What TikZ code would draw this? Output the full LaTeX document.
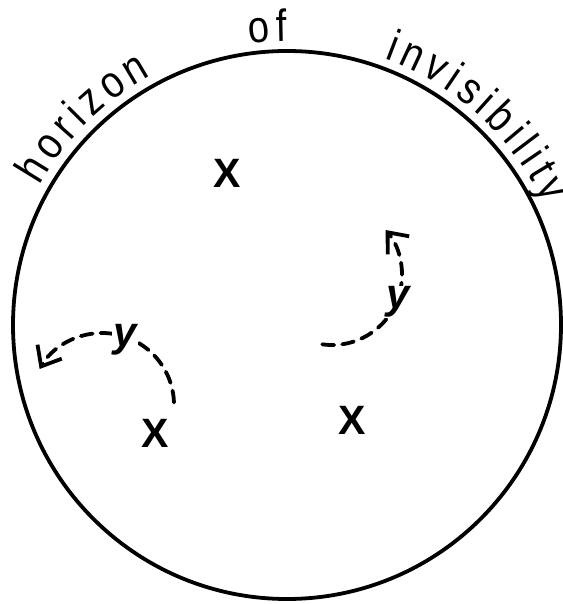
\documentclass[tikz,border=0pt]{standalone}
\usepackage{fontspec}
\setmainfont{Liberation Sans}
\usetikzlibrary{arrows.meta}
\newfontfamily\arcfont[FakeStretch=0.85]{Liberation Sans}
\newcommand\lettrfont{\arcfont\fontsize{45}{45}\selectfont}
\newcommand\Rtxt{284}
\newcommand\LSp{5.5}
\newcommand\arcword[3]{%
  \xdef\curang{#1}%
  \foreach \letr [count=\kk] in {#2} {%
    \pgfmathwidth{"\letr"}\let\lw\pgfmathresult
    \pgfmathsetmacro\ang{\curang - (\lw/2)/\Rtxt*180/pi}%
    \node[lettr, rotate=\ang-90] (#3\kk) at (\ang:\Rtxt) {\letr};%
    \pgfmathsetmacro\nxt{\curang - (\lw+\LSp)/\Rtxt*180/pi}%
    \global\let\curang\nxt
  }%
}
\tikzset{
  horizon/.style={line width=3.8pt, draw=black},
  lettr/.style={font=\lettrfont, anchor=base, inner sep=0pt, outer sep=0pt},
  xmark/.style={font=\normalfont\fontsize{41}{41}\selectfont\bfseries, inner sep=0pt},
  ylab/.style={font=\normalfont\fontsize{42}{42}\selectfont\bfseries\itshape, fill=white, inner sep=1pt},
  motion/.style={line width=3.8pt, dash pattern=on 12pt off 8pt, line cap=round,
    -{Straight Barb[length=17pt, width=28pt, line width=3.8pt]}}
}
\begin{document}
\begin{tikzpicture}[x=1pt,y=1pt]
\useasboundingbox (-287,-279) rectangle (275,325);
\begin{scope}
\lettrfont
% horizon circle
\node[horizon, circle, minimum size=548pt, inner sep=0pt] (hz) at (0,0) {};
% curved title
\arcword{150.5}{h,o,r,i,z,o,n}{ha}
\arcword{97.6}{o,f}{oa}
\arcword{70}{i,n,v,i,s,i,b,i,l,i,t,y}{ia}
\end{scope}
% points
\node[xmark] (x1) at (-60,152) {X};
\node[xmark] (x2) at (-132,-108) {X};
\node[xmark] (x3) at (65,-95) {X};
% motion arcs
\coordinate (lc) at (-185,-80);
\coordinate (rc) at (45,50);
\draw[motion] (lc) ++(2:72) arc[start angle=2, end angle=150, radius=72];
\draw[motion] (rc) ++(-98:70) arc[start angle=-98, end angle=40, radius=70];
\node[ylab] (y1) at (-162,-15) {y};
\node[ylab] (y2) at (111,23) {y};
\end{tikzpicture}
\end{document}
